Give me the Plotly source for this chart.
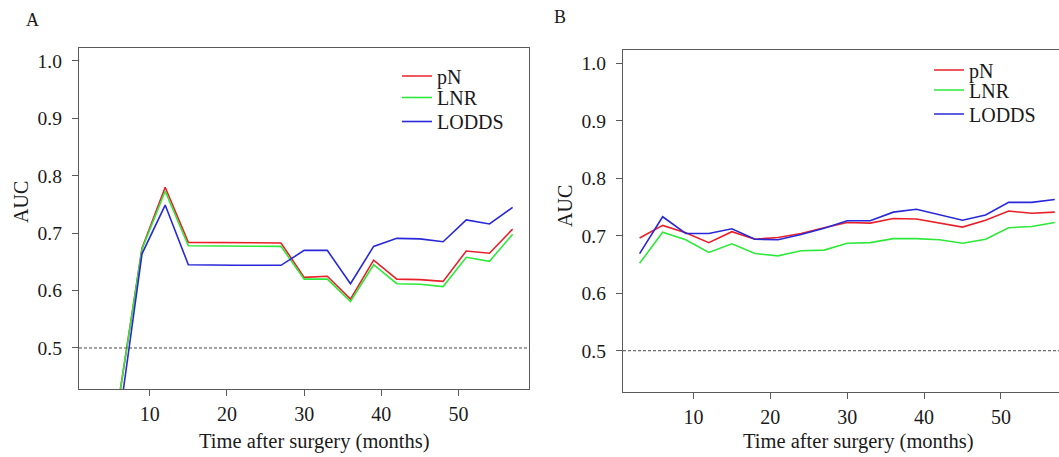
import plotly.graph_objects as go

W, H = 1059, 457

months = [3, 6, 9, 12, 15, 18, 21, 24, 27, 30, 33, 36, 39, 42, 45, 48, 51, 54, 57]

# Panel A
a_pN    = [0.35, 0.41, 0.674, 0.780, 0.684, 0.684, 0.683, 0.683, 0.683, 0.623, 0.625, 0.585, 0.653, 0.620, 0.619, 0.616, 0.669, 0.665, 0.707]
a_LNR   = [0.35, 0.41, 0.672, 0.773, 0.678, 0.678, 0.677, 0.677, 0.677, 0.620, 0.620, 0.581, 0.645, 0.612, 0.611, 0.607, 0.658, 0.651, 0.698]
a_LODDS = [0.32, 0.37, 0.664, 0.749, 0.645, 0.644, 0.644, 0.644, 0.644, 0.670, 0.670, 0.612, 0.677, 0.691, 0.690, 0.685, 0.723, 0.716, 0.745]

# Panel B
b_pN    = [0.696, 0.718, 0.705, 0.688, 0.707, 0.694, 0.697, 0.704, 0.714, 0.723, 0.722, 0.730, 0.729, 0.722, 0.715, 0.727, 0.743, 0.739, 0.741]
b_LNR   = [0.652, 0.706, 0.693, 0.671, 0.686, 0.669, 0.665, 0.674, 0.675, 0.687, 0.688, 0.695, 0.695, 0.693, 0.687, 0.694, 0.714, 0.716, 0.723]
b_LODDS = [0.669, 0.733, 0.704, 0.704, 0.712, 0.694, 0.693, 0.702, 0.713, 0.726, 0.726, 0.741, 0.746, 0.737, 0.727, 0.736, 0.758, 0.758, 0.763]

series_names = ["pN", "LNR", "LODDS"]
colors = ["#E8202A", "#2EE83A", "#2828D8"]

x_ticks = [10, 20, 30, 40, 50]
y_ticks = [0.5, 0.6, 0.7, 0.8, 0.9, 1.0]

FONT = "Liberation Serif, Times New Roman, serif"
TXT = "#1a1a1a"
AXC = "#5a5a5a"


def px(x):
    return x / W


def py(y):
    return 1 - y / H


fig = go.Figure()

# one single-entry legend per row so the row spacing matches the reference
legend_rows_a = [76, 97.5, 121.5]
legend_rows_b = [70, 90, 114]
legend_layout = {}
k = 1
for panel, (series, xa, ya, rows, lx) in enumerate([
        ([a_pN, a_LNR, a_LODDS], "x", "y", legend_rows_a, 397),
        ([b_pN, b_LNR, b_LODDS], "x2", "y2", legend_rows_b, 929)]):
    for vals, name, c, ry in zip(series, series_names, colors, rows):
        lname = "legend" if k == 1 else f"legend{k}"
        fig.add_trace(go.Scatter(x=months, y=vals, mode="lines", name=name,
                                 line=dict(color=c, width=1.6), xaxis=xa, yaxis=ya,
                                 legend=lname))
        legend_layout[lname] = dict(x=px(lx), y=py(ry), xanchor="left", yanchor="middle",
                                    bgcolor="rgba(0,0,0,0)",
                                    font=dict(family=FONT, size=20, color=TXT),
                                    itemwidth=30)
        k += 1

common_x = dict(tickvals=x_ticks, ticks="outside", ticklen=6, tickcolor=AXC,
                showline=True, linecolor=AXC, linewidth=1.3, mirror=True,
                showgrid=False, zeroline=False,
                tickfont=dict(family=FONT, size=20, color=TXT), ticklabelstandoff=1)
common_y = dict(tickvals=y_ticks, tickformat=".1f", ticks="outside", ticklen=6, tickcolor=AXC,
                showline=True, linecolor=AXC, linewidth=1.3,
                showgrid=False, zeroline=False,
                tickfont=dict(family=FONT, size=19.5, color=TXT), ticklabelstandoff=6)

fig.update_layout(
    width=W, height=H,
    margin=dict(l=0, r=0, t=0, b=0),
    paper_bgcolor="white", plot_bgcolor="white",
    xaxis=dict(domain=[px(79), px(529.3)], range=[0.84, 59.16], anchor="y", **common_x),
    yaxis=dict(domain=[py(389.3), py(48)], range=[0.428, 1.0226], anchor="x", mirror=True, **common_y),
    xaxis2=dict(domain=[px(623), 1.0], range=[0.84, 57.55], anchor="y2", **common_x),
    yaxis2=dict(domain=[py(392.3), py(50)], range=[0.4277, 1.023], anchor="x2", mirror=False, **common_y),
    showlegend=True,
    **legend_layout,
)

# dashed reference line at AUC = 0.5
for xr, yr in [("x", "y"), ("x2", "y2")]:
    fig.add_shape(type="line", xref=f"{xr} domain", yref=yr, x0=0, x1=1, y0=0.5, y1=0.5,
                  line=dict(color="#333333", width=0.9, dash="3px,2px"))

annots = [
    ("A", 32, 20, 0, 18),
    ("B", 560, 17, 0, 18),
    ("AUC", 21, 202, -90, 20),
    ("AUC", 565, 206, -90, 20),
    ("Time after surgery (months)", 314, 441, 0, 20.5),
    ("Time after surgery (months)", 858, 441, 0, 20.5),
]
for text, x, y, ang, fs in annots:
    fig.add_annotation(text=text, x=px(x), y=py(y), xref="paper", yref="paper",
                       showarrow=False, textangle=ang, xanchor="center", yanchor="middle",
                       font=dict(family=FONT, size=fs, color=TXT))

fig.write_html("out.html", config={"displayModeBar": False},
               post_script="document.body.style.margin='0';")
